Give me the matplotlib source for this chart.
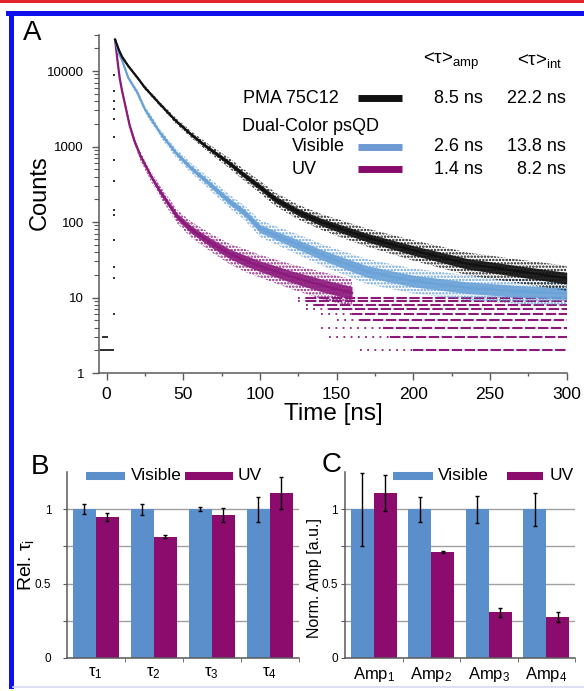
import matplotlib
matplotlib.use("Agg")
import matplotlib.pyplot as plt
import numpy as np
from matplotlib.lines import Line2D
from matplotlib.patches import Rectangle

plt.rcParams['font.family'] = ['Liberation Sans', 'DejaVu Sans']
plt.rcParams['mathtext.fontset'] = 'custom'
plt.rcParams['mathtext.rm'] = 'Liberation Sans'
plt.rcParams['mathtext.it'] = 'Liberation Sans:italic'
plt.rcParams['mathtext.default'] = 'regular'
plt.rcParams['hatch.linewidth'] = 1.2

# --- panel A: decay curves (time in ns, photon counts)
t_decay = [5.5, 8, 10, 14, 20, 25, 35, 45, 55, 65, 80, 90, 100, 110, 125, 140, 150, 170, 200, 235, 270, 300]
pma_counts = [26000, 19000, 15500, 11700, 8200, 6000, 3600, 2200, 1450, 1000, 600, 413, 290, 200, 135, 100, 85, 62, 42, 28, 22, 18]
pma_spread = [0.015, 0.015, 0.015, 0.015, 0.015, 0.018, 0.02, 0.025, 0.03, 0.035, 0.045, 0.05,
              0.055, 0.06, 0.065, 0.07, 0.075, 0.08, 0.09, 0.1, 0.105, 0.11]
vis_counts = [26000, 17000, 14000, 8200, 5200, 3100, 1500, 830, 520, 348, 188, 132, 82, 67, 50, 37, 31, 22, 16.5, 13.5, 12, 11.3]
vis_spread = [0.015, 0.015, 0.018, 0.02, 0.025, 0.03, 0.035, 0.04, 0.045, 0.05, 0.06, 0.065,
              0.075, 0.08, 0.09, 0.095, 0.1, 0.11, 0.11, 0.11, 0.11, 0.11]
t_uv = [5.5, 7, 8.5, 10, 12, 15, 18, 22, 29, 35, 46, 55, 68, 80, 90, 100, 120, 140, 160]
uv_counts = [26000, 14000, 8000, 5500, 3600, 1900, 1200, 750, 400, 250, 118, 80, 53, 38, 31, 26, 19, 14.5, 11.5]
uv_spread = [0.015, 0.02, 0.02, 0.025, 0.025, 0.03, 0.035, 0.04, 0.045, 0.05, 0.06, 0.07,
             0.08, 0.09, 0.1, 0.1, 0.11, 0.12, 0.12]

# UV tail: integer count levels and where they start (sparse / dense)
uv_levels = [2, 3, 4, 5, 6, 7, 8, 9, 10]
uv_level_sparse = [165, 145, 140, 150, 140, 130, 130, 125, 125]
uv_level_dense = [200, 185, 180, 165, 160, 145, 135, 130, 130]

# background before the pulse and the rising edge
pre_t = [-4, -3, -2, -1, 0, 1, 2, 3, 4]
pre_counts = [2, 2, 2, 2, 2, 2, 2, 2, 2]
pre3_t = [-2.5, -1.5, -0.5, 0.5]
pre3_counts = [3, 3, 3, 3]
rise_counts = [6, 18, 25, 58, 125, 145, 345, 670, 1320, 2300, 3100, 4000, 5500, 8900]
rise_t = 4.5

legend_rows = ['PMA 75C12', 'Visible', 'UV']
tau_amp = ['8.5 ns', '2.6 ns', '1.4 ns']
tau_int = ['22.2 ns', '13.8 ns', '8.2 ns']

# --- panels B and C
tau_labels = ['τ$_1$', 'τ$_2$', 'τ$_3$', 'τ$_4$']
tau_visible = [1, 1, 1, 1]
tau_visible_err = [0.032, 0.037, 0.012, 0.084]
tau_uv = [0.95, 0.816, 0.962, 1.108]
tau_uv_err = [0.027, 0.009, 0.045, 0.11]

amp_labels = ['Amp$_1$', 'Amp$_2$', 'Amp$_3$', 'Amp$_4$']
amp_visible = [1, 1, 1, 1]
amp_visible_err = [0.245, 0.084, 0.092, 0.11]
amp_uv = [1.108, 0.713, 0.307, 0.274]
amp_uv_err = [0.12, 0.007, 0.032, 0.034]

W, H = 584, 691
BLACK = '#111111'
VIS_DOT = '#6aa2d8'
UV_DOT = '#8c1a7c'
VIS_BAR = '#5b8fcc'
UV_BAR = '#8b0c6d'
AXC = '#5a5a5a'


def fx(px):
    return px / W


def fy(py):
    return 1 - py / H


def band(ax, t, c, s, color, z):
    t = np.asarray(t, float)
    c = np.asarray(c, float)
    s = np.asarray(s, float)
    # sparse outer dots, dense core, and the centre line
    ax.fill_between(t, c * 10 ** (-1.5 * s), c * 10 ** (1.5 * s), facecolor='none',
                    edgecolor=color, hatch='.....', lw=0, zorder=z)
    ax.fill_between(t, c * 10 ** (-0.7 * s), c * 10 ** (0.7 * s), color=color, alpha=0.9, lw=0, zorder=z + 0.1)
    ax.plot(t, c, color=color, lw=1.6, zorder=z + 0.2)


fig = plt.figure(figsize=(W / 100, H / 100), dpi=100)

# frame around the figure
fig.add_artist(Rectangle((0, fy(2.5)), 1, 2.5 / H, transform=fig.transFigure, color='#e2232c', lw=0))
fig.add_artist(Line2D([fx(10.5), fx(10.5)], [fy(12.5), fy(686)], color='#1010ee', lw=3.6))
fig.add_artist(Line2D([fx(8), 1.0], [fy(12.5), fy(12.5)], color='#1010ee', lw=3.6))
fig.add_artist(Line2D([fx(13), 1.0], [fy(687), fy(687)], color='#d8d8f4', lw=1.2))

# ---------------- panel A
axA = fig.add_axes([fx(99.3), fy(373), fx(467.4), 338 / H])
axA.set_yscale('log')
for lev, ts, td in zip(uv_levels, uv_level_sparse, uv_level_dense):
    axA.plot([ts, td], [lev, lev], color=UV_DOT, lw=1.3, ls=(0, (1, 3)), zorder=1)
    axA.plot([td, 300], [lev, lev], color=UV_DOT, lw=1.5, ls=(0, (5, 1.2)), zorder=1)
band(axA, t_uv, uv_counts, uv_spread, UV_DOT, 2)
band(axA, t_decay, vis_counts, vis_spread, VIS_DOT, 3)
band(axA, t_decay, pma_counts, pma_spread, BLACK, 4)
axA.scatter(pre_t, pre_counts, s=3, marker='s', color='#333333', lw=0, zorder=5)
axA.scatter(pre3_t, pre3_counts, s=3, marker='s', color='#333333', lw=0, zorder=5)
axA.scatter([rise_t] * len(rise_counts), rise_counts, s=3, marker='s', color='#333333', lw=0, zorder=5)

axA.set_xlim(-4.8, 300)
axA.set_ylim(1, 3e4)
axA.set_xticks([0, 50, 100, 150, 200, 250, 300])
axA.set_xticks([25, 75, 125, 175, 225, 275], minor=True)
axA.set_yticks([1, 10, 100, 1000, 10000])
axA.set_yticklabels(['1', '10', '100', '1000', '10000'])
axA.yaxis.set_minor_formatter(matplotlib.ticker.NullFormatter())
axA.tick_params(axis='y', which='major', length=5, width=1, color=AXC, labelsize=9.5, pad=6)
axA.tick_params(axis='y', which='minor', length=3.5, width=0.8, color=AXC)
axA.tick_params(axis='x', which='major', length=5, width=1, color=AXC, labelsize=12.5, pad=5)
axA.tick_params(axis='x', which='minor', length=2.5, width=1, color=AXC)
for sp in ['top', 'right']:
    axA.spines[sp].set_visible(False)
for sp in ['left', 'bottom']:
    axA.spines[sp].set_color(AXC)
    axA.spines[sp].set_linewidth(1.1)


def ax_xy(px, py):
    return (px - 99.3) / 467.4, (373 - py) / 338


x0, y0 = ax_xy(423, 61)
axA.text(x0, y0, '<τ>$_{amp}$', transform=axA.transAxes, fontsize=13.5, va='center', ha='left')
x0, y0 = ax_xy(517, 61)
axA.text(x0, y0, '<τ>$_{int}$', transform=axA.transAxes, fontsize=13.5, va='center', ha='left')
x0, y0 = ax_xy(241.7, 126.7)
axA.text(x0, y0, 'Dual-Color psQD', transform=axA.transAxes, fontsize=13, va='center', ha='left')

row_y = [98.3, 146.5, 169]
row_color = [BLACK, '#6b9bd2', '#870b6c']
for i, lab in enumerate(legend_rows):
    if i == 0:
        x0, y0 = ax_xy(338.3, row_y[i])
        axA.text(x0, y0, lab, transform=axA.transAxes, fontsize=13, va='center', ha='right')
    else:
        x0, y0 = ax_xy(291.7, row_y[i])
        axA.text(x0, y0, lab, transform=axA.transAxes, fontsize=13, va='center', ha='left')
    xa, ya = ax_xy(358, row_y[i])
    xb, _ = ax_xy(401.7, row_y[i])
    axA.plot([xa, xb], [ya, ya], transform=axA.transAxes, color=row_color[i], lw=5,
             solid_capstyle='butt', clip_on=False)
    x0, _ = ax_xy(483, 0)
    axA.text(x0, ya, tau_amp[i], transform=axA.transAxes, fontsize=13, va='center', ha='right')
    x0, _ = ax_xy(566, 0)
    axA.text(x0, ya, tau_int[i], transform=axA.transAxes, fontsize=13, va='center', ha='right')

fig.text(fx(32), fy(33), 'A', fontsize=20, ha='center', va='center')
fig.text(fx(40), fy(193), 'Counts', fontsize=17, rotation=90, ha='center', va='center')
fig.text(fx(333), fy(414), 'Time [ns]', fontsize=17.5, ha='center', va='center')


# ---------------- panels B and C
def bar_panel(ax, labels, vis, vis_err, uv, uv_err, label_pad):
    x = np.arange(len(labels))
    ax.bar(x - 0.2, vis, 0.4, color=VIS_BAR, zorder=2, yerr=vis_err,
           error_kw=dict(ecolor='black', elinewidth=1, capsize=1.5, capthick=1, zorder=3))
    ax.bar(x + 0.2, uv, 0.4, color=UV_BAR, zorder=2, yerr=uv_err,
           error_kw=dict(ecolor='black', elinewidth=1, capsize=1.5, capthick=1, zorder=3))
    ax.set_xlim(-0.5, 3.5)
    ax.set_ylim(0, 1.25)
    ax.set_yticks([0, 0.25, 0.5, 0.75, 1.0])
    ax.set_yticklabels(['0', '', '0.5', '', '1'])
    ax.yaxis.grid(True, color='#a0a0a0', lw=1)
    ax.set_axisbelow(True)
    ax.set_xticks(x)
    ax.set_xticklabels(labels)
    ax.set_xticks([0.5, 1.5, 2.5, 3.5], minor=True)
    ax.tick_params(axis='x', which='major', length=0, labelsize=12, pad=5)
    ax.tick_params(axis='x', which='minor', length=3, color=AXC)
    ax.tick_params(axis='y', length=3, color=AXC, labelsize=8.5, pad=label_pad)
    for sp in ['top', 'right']:
        ax.spines[sp].set_visible(False)
    for sp in ['left', 'bottom']:
        ax.spines[sp].set_color(AXC)
        ax.spines[sp].set_linewidth(1.1)


axB = fig.add_axes([fx(66.7), fy(658), fx(232), 186 / H])
bar_panel(axB, tau_labels, tau_visible, tau_visible_err, tau_uv, tau_uv_err, 8)
axC = fig.add_axes([fx(345), fy(658), fx(230), 186 / H])
bar_panel(axC, amp_labels, amp_visible, amp_visible_err, amp_uv, amp_uv_err, 2)


def bar_legend(ax, left_px, width_px, vis_span, vis_text, uv_span, uv_text):
    def ux(px):
        return (px - left_px) / width_px
    yy = (658 - 475.7) / 186
    ax.plot([ux(vis_span[0]), ux(vis_span[1])], [yy, yy], transform=ax.transAxes, color=VIS_BAR,
            lw=5.8, solid_capstyle='butt', clip_on=False, zorder=5)
    ax.text(ux(vis_text), yy, 'Visible', transform=ax.transAxes, fontsize=12.5, va='center', ha='left')
    ax.plot([ux(uv_span[0]), ux(uv_span[1])], [yy, yy], transform=ax.transAxes, color=UV_BAR,
            lw=5.8, solid_capstyle='butt', clip_on=False, zorder=5)
    ax.text(ux(uv_text), yy, 'UV', transform=ax.transAxes, fontsize=12.5, va='center', ha='left')


bar_legend(axB, 66.7, 232, (86, 125), 130.7, (185, 233), 238)
bar_legend(axC, 345, 230, (393, 433), 438, (507, 543), 550)

fig.text(fx(40), fy(467), 'B', fontsize=20, ha='center', va='center')
fig.text(fx(332), fy(465), 'C', fontsize=20, ha='center', va='center')
fig.text(fx(26), fy(565), 'Rel. τ$_i$', fontsize=14, rotation=90, ha='center', va='center')
fig.text(fx(314), fy(578), 'Norm. Amp [a.u.]', fontsize=11.5, rotation=90, ha='center', va='center')

fig.savefig('out.png', dpi=100)
